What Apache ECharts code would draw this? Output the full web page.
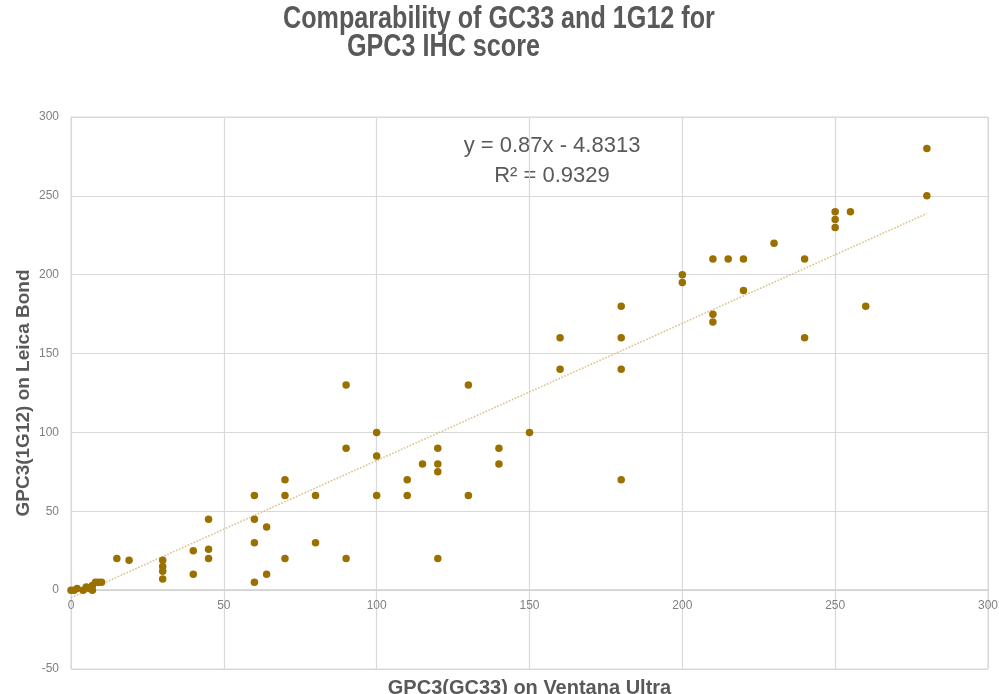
<!DOCTYPE html>
<html>
<head>
<meta charset="utf-8">
<style>
  html, body { margin: 0; padding: 0; background: #fff; }
  #chart { width: 999px; height: 694px; }
</style>
<script src="https://cdn.jsdelivr.net/npm/echarts@6/dist/echarts.min.js"></script>
</head>
<body>
<div id="chart"></div>
<script>
// GPC3 IHC scores: x = GC33 on Ventana Ultra, y = 1G12 on Leica Bond
var gc33Scores = [
  0, 1, 2, 4, 5, 6, 7, 7, 8, 9, 10,
  15, 19,
  30, 30, 30, 30,
  40, 40,
  45, 45, 45,
  60, 60, 60, 60,
  64, 64,
  70, 70, 70,
  80, 80,
  90, 90, 90,
  100, 100, 100,
  110, 110,
  115,
  120, 120, 120, 120,
  130, 130,
  140, 140,
  150,
  160, 160,
  180, 180, 180, 180,
  200, 200,
  210, 210, 210,
  215,
  220, 220,
  230,
  240, 240,
  250, 250, 250,
  255,
  260,
  280, 280
];
var g1g12Scores = [
  0, 0, 1, 0, 2, 1, 0, 3, 5, 5, 5,
  20, 19,
  19, 15, 12, 7,
  25, 10,
  45, 26, 20,
  60, 45, 30, 5,
  40, 10,
  70, 60, 20,
  60, 30,
  130, 90, 20,
  100, 85, 60,
  70, 60,
  80,
  90, 80, 75, 20,
  130, 60,
  90, 80,
  100,
  160, 140,
  180, 160, 140, 70,
  200, 195,
  210, 175, 170,
  210,
  210, 190,
  220,
  210, 160,
  240, 235, 230,
  240,
  180,
  280, 250
];

// linear trendline end points, as shown in the chart
var trendX = [0, 280];
var trendY = [-4.83, 238.77];

var equationLines = ["y = 0.87x - 4.8313", "R\u00b2 = 0.9329"];
var titleLines = ["Comparability of GC33 and 1G12 for", "GPC3 IHC score"];

var FONT = '"Liberation Sans", Arial, sans-serif';
var TEXT_COLOR = "#595959";
var GRID_COLOR = "#d9d9d9";

var Y_MIN = -50, Y_MAX = 300;
var GRID_TOP = 117, GRID_BOTTOM = 25, CHART_H = 694;

var chart = echarts.init(document.getElementById("chart"), null, { renderer: "canvas" });

var points = gc33Scores.map(function (x, i) {
  return [x, g1g12Scores[i]];
});
var trendData = trendX.map(function (x, i) {
  return [x, trendY[i]];
});

// the x axis sits on y = 0, like Excel; move it up from the bottom edge of the grid
var plotH = CHART_H - GRID_TOP - GRID_BOTTOM;
var zeroShift = plotH * (0 - Y_MIN) / (Y_MAX - Y_MIN);

var option = {
  backgroundColor: "#ffffff",
  animation: false,
  textStyle: { fontFamily: FONT },
  grid: {
    left: 71,
    right: 11,
    top: GRID_TOP,
    bottom: GRID_BOTTOM,
    containLabel: false,
    outerBoundsMode: "none",
    show: true,
    borderColor: GRID_COLOR,
    borderWidth: 1
  },
  xAxis: {
    type: "value",
    min: 0,
    max: 300,
    interval: 50,
    offset: -zeroShift,
    name: "GPC3(GC33) on Ventana Ultra",
    nameLocation: "middle",
    nameGap: 88,
    nameMoveOverlap: false,
    nameTextStyle: {
      fontFamily: FONT,
      fontSize: 20,
      fontWeight: "bold",
      color: TEXT_COLOR
    },
    axisLine: { show: true, onZero: false, lineStyle: { color: "#d0d0d0", width: 1.5 } },
    axisTick: { show: false },
    axisLabel: { color: "#808080", fontSize: 12, margin: 10, fontFamily: FONT },
    splitLine: { show: true, lineStyle: { color: GRID_COLOR, width: 1.2 } }
  },
  yAxis: {
    type: "value",
    min: Y_MIN,
    max: Y_MAX,
    interval: 50,
    name: "GPC3(1G12) on Leica Bond",
    nameLocation: "middle",
    nameGap: 38,
    nameMoveOverlap: false,
    nameTextStyle: {
      fontFamily: FONT,
      fontSize: 19,
      fontWeight: "bold",
      color: TEXT_COLOR
    },
    axisLine: { show: true, onZero: false, lineStyle: { color: GRID_COLOR } },
    axisTick: { show: false },
    axisLabel: { color: "#808080", fontSize: 12, margin: 12, fontFamily: FONT },
    splitLine: { show: true, lineStyle: { color: GRID_COLOR, width: 1.2 } }
  },
  series: [
    {
      name: "Trendline",
      type: "line",
      data: trendData,
      symbol: "none",
      silent: true,
      lineStyle: { color: "#dcc28c", width: 1.6, type: "dotted" },
      z: 1
    },
    {
      name: "Scores",
      type: "scatter",
      data: points,
      symbol: "circle",
      symbolSize: 7.5,
      itemStyle: { color: "#9a7100", opacity: 1 },
      z: 2
    }
  ],
  graphic: [
    {
      type: "text",
      x: 283,
      y: 19,
      scaleX: 0.786,
      style: {
        text: titleLines[0],
        font: "bold 32px " + FONT,
        fill: TEXT_COLOR,
        align: "left",
        verticalAlign: "middle"
      }
    },
    {
      type: "text",
      x: 347,
      y: 47,
      scaleX: 0.786,
      style: {
        text: titleLines[1],
        font: "bold 32px " + FONT,
        fill: TEXT_COLOR,
        align: "left",
        verticalAlign: "middle"
      }
    },
    {
      type: "text",
      x: 552,
      y: 146,
      style: {
        text: equationLines[0],
        font: "22px " + FONT,
        fill: TEXT_COLOR,
        align: "center",
        verticalAlign: "middle"
      }
    },
    {
      type: "text",
      x: 552,
      y: 176,
      style: {
        text: equationLines[1],
        font: "22px " + FONT,
        fill: TEXT_COLOR,
        align: "center",
        verticalAlign: "middle"
      }
    }
  ]
};

chart.setOption(option);
</script>
</body>
</html>
